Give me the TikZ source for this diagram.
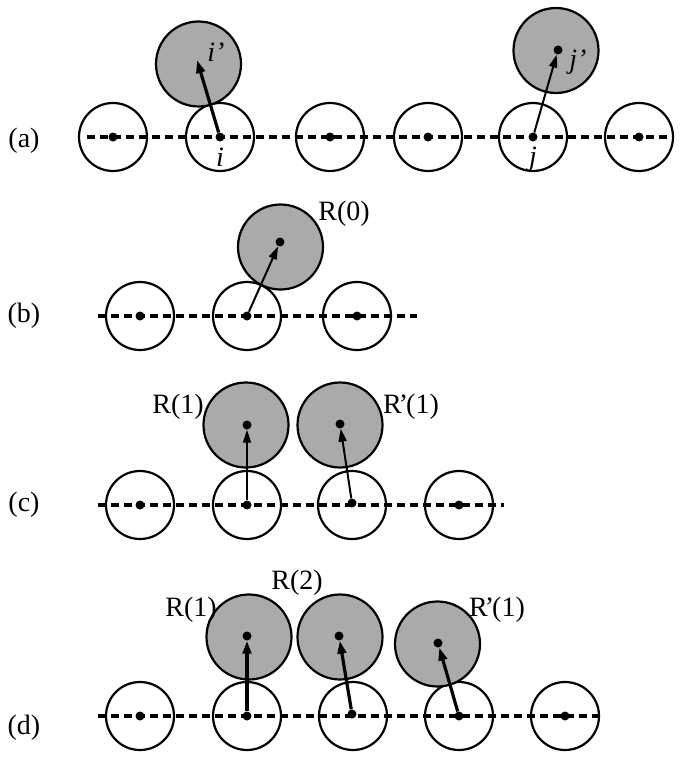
\documentclass[tikz,border=0pt]{standalone}
\usepackage{fontspec}
\setmainfont{Liberation Serif}
\usetikzlibrary{arrows.meta}
\definecolor{ballgray}{RGB}{170,170,170}
\newcommand{\rprime}{R\kern-3pt’\kern-2pt}
\begin{document}
\begin{tikzpicture}[x=1pt,y=-1pt,
 wball/.style={circle,draw,line width=2.2pt,minimum size=68pt,inner sep=0pt,fill=white},
 gball/.style={circle,draw,line width=2.2pt,minimum size=85pt,inner sep=0pt,fill=ballgray},
 dotn/.style={circle,fill,inner sep=0pt,minimum size=9pt},
 axisline/.style={dash pattern=on 8pt off 5pt,line width=3.4pt},
 arr/.style={-{Triangle[length=13pt,width=8pt]},line width=2pt},
 thickarr/.style={-{Triangle[length=13pt,width=8.5pt]},line width=3.2pt},
 lbl/.style={font=\fontsize{28}{32}\selectfont,inner sep=0pt},
 ]
\useasboundingbox (0,0) rectangle (682,765);

% ---------- row (a) ----------
\node[lbl] (la) at (24,141) {(a)};
\foreach \n/\x in {1/113,2/220,3/330,4/428,5/533,6/639}{
  \node[wball] (aw\n) at (\x,137) {};
}
\node[gball] (agi) at (198.5,64) {};
\node[gball] (agj) at (556,50.5) {};
\coordinate (aL) at (87,137);
\coordinate (aR) at (670,137);
\draw[axisline] (aL) -- (aR);
\foreach \n/\x in {1/113,2/220,3/330,4/428,5/533,6/639}{
  \node[dotn] (ad\n) at (\x,137) {};
}
\node[dotn] (adj) at (558,50) {};
\coordinate (atipi) at (197,60);
\draw[thickarr] (ad2) -- (atipi);
\draw[arr] (ad5) -- (adj);
\node[lbl] (ali) at (220,157) {\textit{i}};
\node[lbl] (alip) at (216,52) {\textit{i’}};
\node[lbl] (alj) at (533,159) {\textit{j}};
\node[lbl] (aljp) at (578,62) {\textit{j’}};

% ---------- row (b) ----------
\node[lbl] (lb) at (24,316) {(b)};
\foreach \n/\x in {1/140,2/247,3/357}{
  \node[wball] (bw\n) at (\x,316) {};
}
\node[gball] (bg) at (280.5,247) {};
\coordinate (bL) at (98,316);
\coordinate (bR) at (417,316);
\draw[axisline] (bL) -- (bR);
\foreach \n/\x in {1/140,2/247,3/357}{
  \node[dotn] (bd\n) at (\x,316) {};
}
\node[dotn] (bgd) at (280,242) {};
\draw[arr] (bd2) -- (bgd);
\node[lbl] (blr) at (344,214) {R(0)};

% ---------- row (c) ----------
\node[lbl] (lc) at (24,505) {(c)};
\foreach \n/\x in {1/140,2/247,3/352,4/459}{
  \node[wball] (cw\n) at (\x,505) {};
}
\node[gball] (cg1) at (246,425) {};
\node[gball] (cg2) at (340,425) {};
\coordinate (cL) at (98,505);
\coordinate (cR) at (504,505);
\draw[axisline] (cL) -- (cR);
\foreach \n/\x in {1/140,2/247,4/459}{
  \node[dotn] (cd\n) at (\x,505) {};
}
\node[dotn] (cd3) at (352,503) {};
\node[dotn] (cgd1) at (247,425) {};
\node[dotn] (cgd2) at (340,424) {};
\draw[arr] (cd2) -- (cgd1);
\draw[arr] (cd3) -- (cgd2);
\node[lbl] (clr1) at (178,407) {R(1)};
\node[lbl] (clr2) at (411,407) {\rprime(1)};

% ---------- row (d) ----------
\node[lbl] (ld) at (24,728) {(d)};
\foreach \n/\x in {1/140,2/247,3/353,4/459,5/565}{
  \node[wball] (dw\n) at (\x,716) {};
}
\node[gball] (dg1) at (249,637) {};
\node[gball] (dg2) at (340,637) {};
\node[gball] (dg3) at (437.5,644) {};
\coordinate (dL) at (98,716);
\coordinate (dR) at (600,716);
\draw[axisline] (dL) -- (dR);
\foreach \n/\x in {1/140,2/247,4/459,5/565}{
  \node[dotn] (dd\n) at (\x,716) {};
}
\node[dotn] (dd3) at (352,714) {};
\node[dotn] (dgd1) at (247,636) {};
\node[dotn] (dgd2) at (339,636) {};
\node[dotn] (dgd3) at (438,643) {};
\draw[thickarr] (dd2) -- (dgd1);
\draw[thickarr] (dd3) -- (dgd2);
\draw[thickarr] (dd4) -- (dgd3);
\node[lbl] (dlr1) at (191,610) {R(1)};
\node[lbl] (dlr2) at (297,583) {R(2)};
\node[lbl] (dlr3) at (497,610) {\rprime(1)};
\end{tikzpicture}
\end{document}
